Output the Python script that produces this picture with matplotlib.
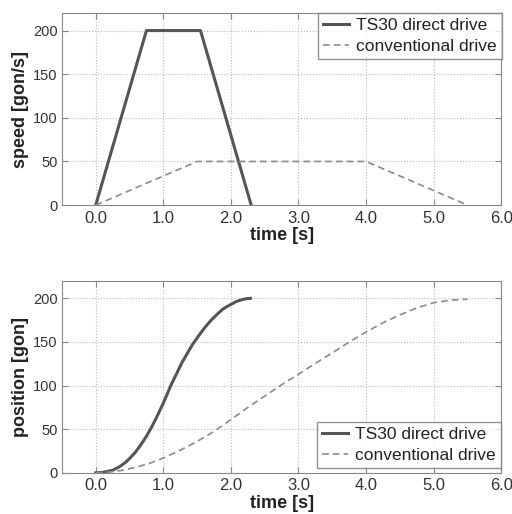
import numpy as np
import matplotlib.pyplot as plt

plt.rcParams['font.family'] = ['Liberation Sans', 'DejaVu Sans']

# speed profiles (gon/s)
t_direct_speed = [0.0, 0.75, 1.55, 2.3]
v_direct = [0, 200, 200, 0]
t_conv_speed = [0.0, 1.5, 4.0, 5.5]
v_conv = [0, 50, 50, 0]

# position profiles (gon)
t_direct_pos = [0.0, 0.1, 0.25, 0.35, 0.44, 0.52, 0.59, 0.67, 0.75, 0.82, 0.89, 1.0,
                1.11, 1.28, 1.43, 1.55, 1.64, 1.72, 1.8, 1.87, 1.94, 2.0, 2.07, 2.14, 2.22, 2.29]
p_direct = [0, 0.5, 3, 7, 12, 18, 24, 32.5, 42, 51.5, 62, 80,
            100, 127, 147, 160, 169, 176, 182, 187, 190.5, 193, 196, 198, 199.5, 200]
t_conv_pos = [0.0, 0.2, 0.4, 0.6, 0.8, 1.0, 1.25, 1.5, 1.75, 2.0, 2.25, 2.5, 2.75, 3.0,
              3.25, 3.5, 3.75, 4.0, 4.25, 4.5, 4.75, 5.0, 5.25, 5.5]
p_conv = [0, 1, 3, 6.5, 11, 17, 26, 36, 47.5, 61, 75, 88, 101, 113,
          125.5, 137.5, 150, 161.5, 172, 181, 189, 195, 198, 199]

xticks = [0, 1, 2, 3, 4, 5, 6]
xticklabels = ['0.0', '1.0', '2.0', '3.0', '4.0', '5.0', '6.0']
yticks = [0, 50, 100, 150, 200]

fig = plt.figure(figsize=(5.12, 5.14), dpi=100)
ax_v = fig.add_axes([0.121, 0.601, 0.858, 0.3735])
ax_p = fig.add_axes([0.121, 0.080, 0.858, 0.3735])

ax_v.plot(t_direct_speed, v_direct, color='#555555', lw=2.2, label='TS30 direct drive')
ax_v.plot(t_conv_speed, v_conv, color='#8a8a8a', lw=1.2, ls=(0, (4, 2.5)), label='conventional drive')
ax_p.plot(t_direct_pos, p_direct, color='#555555', lw=2.2, label='TS30 direct drive')
ax_p.plot(t_conv_pos, p_conv, color='#8a8a8a', lw=1.2, ls=(0, (4, 2.5)), label='conventional drive')

panels = [(ax_v, 'speed [gon/s]', 'upper right', (1.002, 1.0)),
          (ax_p, 'position [gon]', 'lower right', (1.0, 0.026))]
for ax, ylab, loc, anchor in panels:
    ax.set_xlim(-0.5, 6)
    ax.set_ylim(0, 220)
    ax.set_xticks(xticks)
    ax.set_xticklabels(xticklabels, fontsize=12)
    ax.set_yticks(yticks)
    ax.tick_params(direction='in', top=True, right=True, length=4, color='#888888',
                   labelcolor='#333333', pad=4)
    ax.tick_params(axis='y', labelsize=10.5, pad=3)
    ax.grid(True, ls=':', color='#bbbbbb', lw=0.8)
    for s in ax.spines.values():
        s.set_color('#888888')
    ax.set_xlabel('time [s]', fontsize=13, fontweight='bold', color='#222222', labelpad=1)
    ax.set_ylabel(ylab, fontsize=13, fontweight='bold', color='#222222', labelpad=3)
    leg = ax.legend(loc=loc, bbox_to_anchor=anchor, fontsize=12.5, frameon=True, fancybox=False,
                    borderaxespad=0, handlelength=1.5, borderpad=0.3, labelspacing=0.3,
                    handletextpad=0.4)
    leg.get_frame().set_edgecolor('#777777')
    leg.get_frame().set_linewidth(1.0)
    for txt in leg.get_texts():
        txt.set_color('#222222')

fig.savefig('out.png', dpi=100)
